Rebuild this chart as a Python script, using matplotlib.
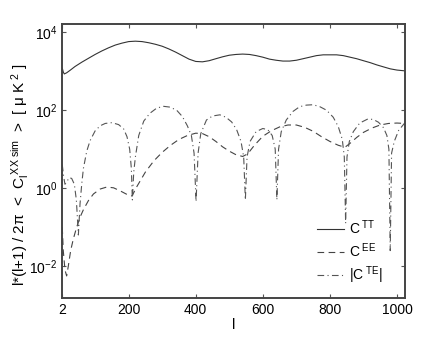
import matplotlib
matplotlib.use("Agg")
import matplotlib.pyplot as plt
from matplotlib.ticker import NullLocator, FixedLocator

plt.rcParams['font.family'] = ['Liberation Sans', 'DejaVu Sans']
plt.rcParams['mathtext.fontset'] = 'custom'
plt.rcParams['mathtext.rm'] = 'Liberation Sans'
plt.rcParams['mathtext.it'] = 'Liberation Sans'
plt.rcParams['mathtext.default'] = 'regular'

# multipole l and spectra (uK^2)
l_tt = [2, 5, 8, 15, 25, 40, 60, 80, 100, 120, 140, 160, 180, 200, 220, 240, 260, 280,
        300, 320, 340, 360, 380, 400, 420, 440, 460, 480, 500, 520, 540, 560, 580, 600,
        620, 640, 660, 680, 700, 720, 740, 760, 780, 800, 820, 840, 860, 880, 900, 920,
        940, 960, 980, 1000, 1024]
c_tt = [1200, 955, 850, 910, 1050, 1320, 1700, 2140, 2690, 3310, 3980, 4680, 5250, 5750,
        5890, 5750, 5370, 4900, 4370, 3720, 3090, 2510, 2040, 1780, 1740, 1860, 2090, 2340,
        2570, 2690, 2750, 2690, 2510, 2290, 2040, 1910, 1820, 1820, 1910, 2090, 2290, 2510,
        2630, 2630, 2630, 2510, 2290, 2090, 1860, 1660, 1450, 1290, 1150, 1070, 1020]

l_ee = [2, 5, 10, 15, 20, 27, 35, 45, 55, 65, 80, 95, 115, 135, 155, 175, 195, 210, 225,
        250, 275, 300, 325, 350, 375, 400, 420, 440, 460, 480, 500, 520, 540, 555, 575,
        600, 625, 650, 675, 700, 725, 750, 775, 800, 825, 845, 860, 880, 900, 925, 950,
        975, 1000, 1024]
c_ee = [0.10, 0.025, 0.008, 0.0056, 0.01, 0.025, 0.05, 0.10, 0.18, 0.28, 0.48, 0.71, 0.95,
        1.07, 1.02, 0.85, 0.69, 0.63, 1.12, 2.6, 5.0, 8.3, 12.6, 17.8, 22.4, 25.7, 25.1,
        20.9, 15.8, 11.5, 8.9, 7.2, 6.5, 7.6, 12.6, 21.4, 29.5, 37.2, 41.7, 41.7, 36.3,
        28.8, 20.9, 15.8, 12.6, 11.2, 14.1, 20.0, 26.9, 34.7, 41.7, 45.7, 46.8, 45.7]

l_te = [2, 6, 10, 15, 22, 30, 38, 44, 50, 55, 60, 65, 75, 85, 100, 115, 130, 150, 170,
        185, 195, 203, 208, 211, 215, 220, 230, 245, 263, 283, 303, 323, 343, 360, 375,
        387, 395, 401, 407, 415, 432, 450, 472, 490, 507, 522, 535, 543, 548, 553, 562,
        580, 600, 615, 628, 637, 642, 647, 655, 670, 690, 710, 730, 750, 770, 790, 810,
        825, 837, 843, 847, 851, 858, 870, 889, 914, 930, 945, 960, 970, 976, 980, 984,
        992, 1005, 1024]
c_te = [4.0, 2.0, 1.26, 1.41, 1.86, 1.78, 1.26, 0.5, 0.063, 0.4, 1.26, 3.2, 8.9, 16.6,
        29.5, 39.8, 45.7, 47.9, 42.7, 33.1, 20.9, 10.0, 3.2, 0.5, 2.5, 6.3, 22.4, 52.5, 83,
        112, 126, 120, 100, 69, 39.8, 22.4, 7.9, 0.45, 7.9, 25.1, 56, 71, 76, 66, 50, 31.6,
        15.8, 6.3, 0.5, 6.3, 15.8, 28.2, 33.9, 31.6, 22.4, 10.0, 0.5, 10.0, 28.2, 56, 93,
        123, 135, 138, 123, 100, 66, 38, 17.8, 6.3, 0.126, 6.3, 15.8, 28.2, 46.8, 60, 57.5,
        49, 35.5, 22.4, 10.0, 0.025, 7.9, 15.8, 30.2, 47.9]

x_ticks = [2, 200, 400, 600, 800, 1000]
y_ticks = [1e-2, 1e0, 1e2, 1e4]

fig = plt.figure(figsize=(4.48, 3.37), dpi=100)
ax = fig.add_axes([0.139, 0.115, 0.765, 0.813])

ax.semilogy(l_tt, c_tt, '-', color='#333333', lw=0.8, label='C$^{\\ TT}$')
ax.semilogy(l_ee, c_ee, '--', color='#444444', lw=0.8, dashes=(6, 4), label='C$^{\\ EE}$')
ax.semilogy(l_te, c_te, '-.', color='#555555', lw=0.8, dashes=(6, 3, 1, 3), label='|C$^{\\ TE}$|')

ax.set_xlim(2, 1024)
ax.set_ylim(1.5e-3, 1.6e4)
ax.xaxis.set_major_locator(FixedLocator(x_ticks))
ax.yaxis.set_major_locator(FixedLocator(y_ticks))
ax.yaxis.set_minor_locator(NullLocator())
ax.tick_params(direction='in', top=True, right=True, length=3, width=0.8,
               labelsize=10, color='#555555')
for s in ax.spines.values():
    s.set_color('#444444')
    s.set_linewidth(1.4)

ax.set_xlabel('l', fontsize=10.5, labelpad=1)
ax.set_ylabel(r'l*(l+1) / 2$\pi$  <  C$_l^{\ XX\ sim}$  >  [ $\mu$ K$^{\ 2}$ ]', fontsize=11)
ax.yaxis.set_label_coords(-0.09, 0.45)

ax.legend(loc='lower right', frameon=False, fontsize=10, handlelength=2.0,
          handletextpad=0.3, labelspacing=0.3, bbox_to_anchor=(0.97, 0.0))

fig.savefig('out.png', dpi=100)
